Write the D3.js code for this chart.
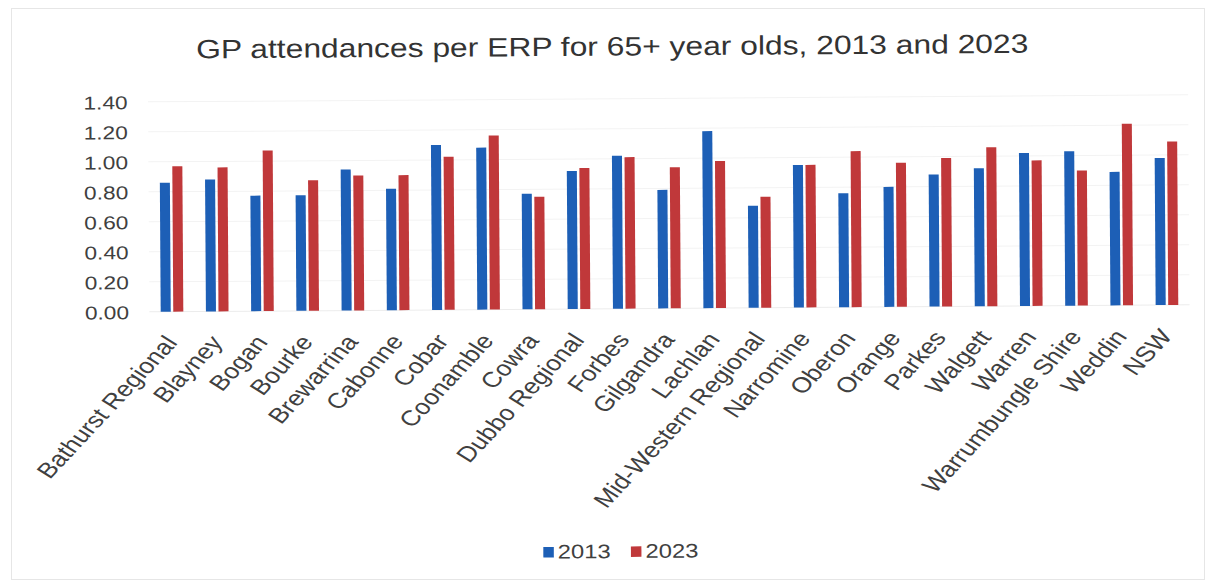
<!DOCTYPE html>
<html>
<head>
<meta charset="utf-8">
<script src="https://cdn.jsdelivr.net/npm/d3@7"></script>
<style>
  html, body { margin: 0; padding: 0; background: #fff; }
  svg { display: block; font-family: "Liberation Sans", Arial, sans-serif; }
</style>
</head>
<body>
<svg id="chart" width="1215" height="584"></svg>
<script>
// LGA names along the x axis
const categories = ["Bathurst Regional", "Blayney", "Bogan", "Bourke", "Brewarrina", "Cabonne",
  "Cobar", "Coonamble", "Cowra", "Dubbo Regional", "Forbes", "Gilgandra", "Lachlan",
  "Mid-Western Regional", "Narromine", "Oberon", "Orange", "Parkes", "Walgett", "Warren",
  "Warrumbungle Shire", "Weddin", "NSW"];

// GP attendances per estimated resident population, 65+ year olds
const values2013 = [0.86, 0.88, 0.77, 0.77, 0.94, 0.81, 1.10, 1.08, 0.77, 0.92, 1.02, 0.79,
  1.18, 0.68, 0.95, 0.76, 0.80, 0.88, 0.92, 1.02, 1.03, 0.89, 0.98];
const values2023 = [0.97, 0.96, 1.07, 0.87, 0.90, 0.90, 1.02, 1.16, 0.75, 0.94, 1.01, 0.94,
  0.98, 0.74, 0.95, 1.04, 0.96, 0.99, 1.06, 0.97, 0.90, 1.21, 1.09];

const seriesNames = ["2013", "2023"];
const seriesColors = ["#1d5fb6", "#c0383a"];
const yTicks = [0, 0.2, 0.4, 0.6, 0.8, 1.0, 1.2, 1.4];
const titleText = "GP attendances per ERP for 65+ year olds, 2013 and 2023";

const rows = categories.map((c, i) => ({ name: c, vals: [values2013[i], values2023[i]] }));

const SX = 1.22;            // horizontal text stretch
const svg = d3.select("#chart");

// light frame around the chart area
svg.append("rect")
  .attr("x", 11.5).attr("y", 8.5).attr("width", 1193).attr("height", 571)
  .attr("fill", "#fff").attr("stroke", "#e6e6e6").attr("stroke-width", 1);

const g = svg.append("g").attr("transform", "rotate(-0.385, 172, 311.7)");

const y = d3.scaleLinear().domain([0, 1.4]).range([311.7, 101.7]);
const x0 = d3.scaleBand().domain(categories).range([149.4, 1189.6])
  .paddingInner(0.5).paddingOuter(0.25);
const x1 = d3.scaleBand().domain(seriesNames).range([0, x0.bandwidth()]).paddingInner(0.2);

// gridlines
g.append("g").selectAll("line").data(yTicks.slice(1)).join("line")
  .attr("x1", 149.4).attr("x2", 1189.6)
  .attr("y1", d => y(d)).attr("y2", d => y(d))
  .attr("stroke", "#f3f3f3").attr("stroke-width", 1);

// y axis tick labels
const yAxis = d3.axisLeft(y).tickValues(yTicks).tickFormat(d3.format(".2f")).tickSize(0);
const ya = g.append("g").attr("transform", "translate(129,0)").call(yAxis);
ya.select(".domain").remove();
ya.selectAll(".tick text")
  .attr("x", 0).attr("dy", "0.36em")
  .attr("font-size", 18.6).attr("fill", "#404040")
  .attr("font-family", "Liberation Sans, Arial, sans-serif")
  .attr("transform", `scale(${SX},1)`);

// baseline
g.append("line").attr("x1", 149.4).attr("x2", 1189.6)
  .attr("y1", y(0)).attr("y2", y(0)).attr("stroke", "#ececec");

// bars
const groups = g.append("g").selectAll("g").data(rows).join("g")
  .attr("transform", d => `translate(${x0(d.name)},0)`);
groups.selectAll("rect").data(d => d.vals.map((v, k) => ({ k, v }))).join("rect")
  .attr("x", d => x1(seriesNames[d.k]))
  .attr("width", x1.bandwidth())
  .attr("y", d => y(d.v))
  .attr("height", d => y(0) - y(d.v))
  .attr("fill", d => seriesColors[d.k]);

// x axis category labels, rotated; the cap-top end sits below each group
const xAxis = d3.axisBottom(x0).tickSize(0);
const xa = g.append("g").attr("transform", `translate(0,${y(0)})`).call(xAxis);
xa.select(".domain").remove();
xa.selectAll(".tick text")
  .attr("x", 0).attr("y", 0).attr("dy", "0.72em")
  .attr("text-anchor", "end")
  .attr("font-size", 21.7).attr("fill", "#404040")
  .attr("font-family", "Liberation Sans, Arial, sans-serif")
  .attr("transform", `translate(-9,22) scale(${SX},1) rotate(-52)`);

// title
g.append("text")
  .attr("transform", `translate(614,58.5) scale(1.2,1)`)
  .attr("text-anchor", "middle")
  .attr("font-size", 26.5).attr("fill", "#333")
  .text(titleText);

// legend
const legendX = [541.7, 629.3];
const lg = g.append("g").selectAll("g").data(seriesNames).join("g")
  .attr("transform", (d, i) => `translate(${legendX[i]},560)`);
lg.append("rect").attr("x", 0).attr("y", -10.5).attr("width", 10.5).attr("height", 10.5)
  .attr("fill", (d, i) => seriesColors[i]);
lg.append("text")
  .attr("transform", `translate(14.5,1) scale(${SX},1)`)
  .attr("font-size", 19.5).attr("fill", "#404040")
  .text(d => d);
</script>
</body>
</html>
